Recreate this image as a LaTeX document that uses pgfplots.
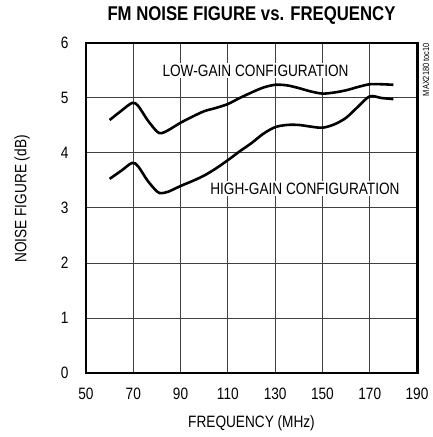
\documentclass[border=0pt]{standalone}
\usepackage{fontspec}
\setmainfont{Liberation Sans}
\usepackage{pgfplots}
\pgfplotsset{compat=1.18}
\newcommand{\nar}[1]{\scalebox{0.83}[1]{#1}}
\begin{document}
\begin{tikzpicture}[x=1bp,y=1bp]
\useasboundingbox (-86,-64) rectangle (347,373);
\begin{axis}[
  at={(0,0)}, anchor=south west,
  scale only axis, width=331bp, height=330bp,
  xmin=50, xmax=190, ymin=0, ymax=6,
  enlargelimits=false,
  xtick={50,70,90,110,130,150,170,190},
  xticklabels={\nar{50},\nar{70},\nar{90},\nar{110},\nar{130},\nar{150},\nar{170},\nar{190}},
  ytick={0,1,2,3,4,5,6},
  yticklabels={\nar{0},\nar{1},\nar{2},\nar{3},\nar{4},\nar{5},\nar{6}},
  major tick length=0pt,
  grid=major,
  major grid style={line width=1pt, color=black!75},
  axis line style={line width=3pt},
  tick label style={font=\fontsize{16.5}{18}\selectfont},
  xticklabel style={yshift=-12bp},
  yticklabel style={xshift=-14bp},
  clip=false,
]
\addplot[line width=2.6pt, smooth, tension=0.5] coordinates {
(60,4.60) (65,4.77) (69.5,4.91) (72,4.86) (76,4.60) (80,4.39) (82,4.36) (85,4.42) (90,4.55) (95,4.66) (100,4.76) (105,4.82) (110,4.89) (115,5.00) (120,5.10) (125,5.19) (130,5.24) (135,5.23) (140,5.18) (145,5.12) (150,5.08) (155,5.10) (160,5.14) (165,5.20) (170,5.25) (175,5.25) (180,5.24)
};
\addplot[line width=2.6pt, smooth, tension=0.5] coordinates {
(60,3.53) (65,3.68) (69.5,3.82) (72,3.76) (76,3.50) (80,3.30) (82,3.27) (85,3.30) (90,3.40) (95,3.49) (100,3.59) (105,3.72) (110,3.87) (115,4.03) (120,4.18) (125,4.35) (130,4.47) (135,4.51) (140,4.51) (145,4.48) (150,4.46) (155,4.52) (160,4.64) (165,4.84) (170,5.03) (175,5.00) (180,4.98)
};
\node[font=\fontsize{16.5}{18}\selectfont, fill=white, inner sep=1.5bp] at (axis cs:121.7,5.50) {\nar{LOW-GAIN CONFIGURATION}};
\node[font=\fontsize{16.5}{18}\selectfont, fill=white, inner sep=1.5bp] at (axis cs:142.6,3.35) {\nar{HIGH-GAIN CONFIGURATION}};
\end{axis}
\node[font=\bfseries\fontsize{20}{22}\selectfont] at (165.5,357) {\scalebox{0.84}[1]{FM NOISE FIGURE vs. FREQUENCY}};
\node[font=\fontsize{16.5}{18}\selectfont] at (165.5,-50) {\nar{FREQUENCY (MHz)}};
\node[rotate=90, font=\fontsize{16.5}{18}\selectfont] at (-64,174) {\nar{NOISE FIGURE (dB)}};
\node[rotate=90, anchor=east, inner sep=0pt, font=\fontsize{9}{10}\selectfont] at (340,330) {\nar{MAX2180 toc10}};
\end{tikzpicture}
\end{document}
